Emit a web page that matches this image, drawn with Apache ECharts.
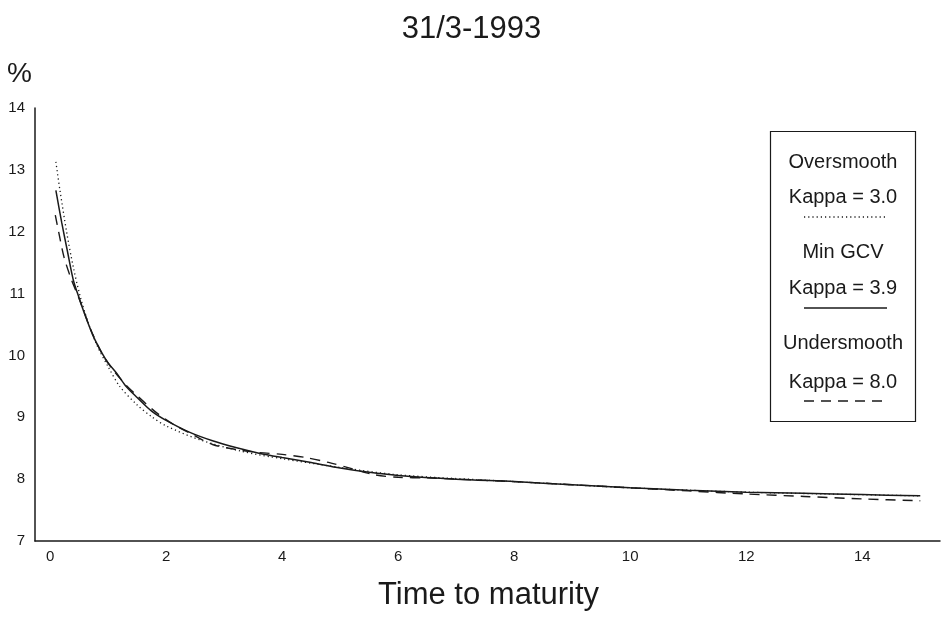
<!DOCTYPE html>
<html>
<head>
<meta charset="utf-8">
<script src="https://cdn.jsdelivr.net/npm/echarts@6/dist/echarts.min.js"></script>
<style>html,body{margin:0;padding:0;background:#fff}#c{width:943px;height:629px}</style>
</head>
<body>
<div id="c"></div>
<script>
var titleText = '31/3-1993';
var xTicks = [0, 2, 4, 6, 8, 10, 12, 14];
var yTicks = [7, 8, 9, 10, 11, 12, 13, 14];

var overT = [0.1, 0.17, 0.29, 0.4, 0.52, 0.65, 0.8, 1.0, 1.2, 1.5, 1.75, 2.0, 2.6, 3.3, 4.0, 5.0, 6.0, 8.0, 10.0, 12.0, 15.0];
var overV = [13.13, 12.67, 11.97, 11.43, 10.95, 10.55, 10.18, 9.82, 9.50, 9.20, 9.01, 8.86, 8.63, 8.45, 8.33, 8.19, 8.07, 7.96, 7.86, 7.79, 7.73];

var gcvT = [0.1, 0.2, 0.3, 0.4, 0.5, 0.6, 0.75, 0.9, 1.0, 1.15, 1.3, 1.5, 1.75, 2.0, 2.4, 2.8, 3.2, 3.6, 4.0, 4.5, 5.0, 5.5, 6.0, 7.0, 8.0, 9.0, 10.0, 11.0, 12.0, 13.0, 14.0, 15.0];
var gcvV = [12.67, 12.15, 11.68, 11.22, 10.93, 10.66, 10.30, 10.03, 9.88, 9.71, 9.51, 9.32, 9.10, 8.95, 8.76, 8.62, 8.51, 8.42, 8.35, 8.27, 8.18, 8.11, 8.06, 8.00, 7.96, 7.91, 7.86, 7.82, 7.79, 7.77, 7.75, 7.73];

var underT = [0.09, 0.16, 0.24, 0.37, 0.5, 0.7, 0.9, 1.1, 1.3, 1.5, 1.8, 2.1, 2.5, 2.8, 3.2, 3.6, 4.0, 4.4, 4.8, 5.2, 5.6, 6.0, 6.5, 7.0, 8.0, 9.0, 10.0, 11.0, 12.0, 13.0, 14.0, 15.0];
var underV = [12.27, 11.94, 11.59, 11.22, 10.92, 10.42, 10.02, 9.75, 9.53, 9.35, 9.10, 8.90, 8.70, 8.56, 8.48, 8.43, 8.40, 8.35, 8.27, 8.17, 8.07, 8.03, 8.02, 8.00, 7.96, 7.91, 7.86, 7.81, 7.76, 7.72, 7.68, 7.65];

var legendItems = [
  {name: 'Oversmooth', kappa: 'Kappa = 3.0', type: [1.2, 3]},
  {name: 'Min GCV', kappa: 'Kappa = 3.9', type: 'solid'},
  {name: 'Undersmooth', kappa: 'Kappa = 8.0', type: [10, 7]}
];

function pairs(t, v) { return t.map(function (x, i) { return [x, v[i]]; }); }

var font = 'Liberation Sans, Arial, sans-serif';
var ink = '#1a1a1a';

var chart = echarts.init(document.getElementById('c'), null, {renderer: 'canvas'});

var gfx = [
  {type: 'text', left: 'center', top: 14, style: {text: titleText, font: '31px ' + font, fill: ink}},
  {type: 'text', left: 7, top: 60, style: {text: '%', font: '28px ' + font, fill: ink}},
  {type: 'text', left: 378, top: 580, style: {text: 'Time to maturity', font: '31px ' + font, fill: ink}},
  {type: 'rect', shape: {x: 770.5, y: 131.5, width: 145, height: 290}, style: {fill: '#fff', stroke: ink, lineWidth: 1.2}}
];
var rowY = [[162, 197, 217], [252, 288, 308], [343, 382, 401]];
legendItems.forEach(function (it, i) {
  gfx.push({type: 'text', x: 843, y: rowY[i][0], style: {text: it.name, font: '20px ' + font, fill: ink, align: 'center', verticalAlign: 'middle'}});
  gfx.push({type: 'text', x: 843, y: rowY[i][1], style: {text: it.kappa, font: '20px ' + font, fill: ink, align: 'center', verticalAlign: 'middle'}});
  gfx.push({type: 'line', shape: {x1: 804, y1: rowY[i][2], x2: 887, y2: rowY[i][2]}, style: {stroke: ink, lineWidth: 1.3, lineDash: it.type === 'solid' ? null : it.type}});
});

var seriesStyles = [
  {data: pairs(overT, overV), type: [1.2, 3], width: 1.3},
  {data: pairs(gcvT, gcvV), type: 'solid', width: 1.5},
  {data: pairs(underT, underV), type: [10, 7], width: 1.4}
];

chart.setOption({
  animation: false,
  backgroundColor: '#fff',
  grid: {left: 35, right: 3, top: 108, bottom: 88, containLabel: false},
  xAxis: {
    type: 'value', min: -0.26, max: 15.34,
    axisLine: {show: true, lineStyle: {color: ink, width: 1.5}},
    axisTick: {show: false},
    splitLine: {show: false},
    axisLabel: {customValues: xTicks, color: ink, fontFamily: font, fontSize: 15, margin: 8}
  },
  yAxis: {
    type: 'value', min: 7, max: 14, interval: 1,
    axisLine: {show: true, onZero: false, lineStyle: {color: ink, width: 1.5}},
    axisTick: {show: false},
    splitLine: {show: false},
    axisLabel: {customValues: yTicks, color: ink, fontFamily: font, fontSize: 15, margin: 10}
  },
  series: seriesStyles.map(function (s, i) {
    return {
      type: 'line', name: legendItems[i].name, data: s.data, smooth: 0.3, showSymbol: false,
      lineStyle: {color: ink, width: s.width, type: s.type}
    };
  }),
  graphic: gfx
});
</script>
</body>
</html>
